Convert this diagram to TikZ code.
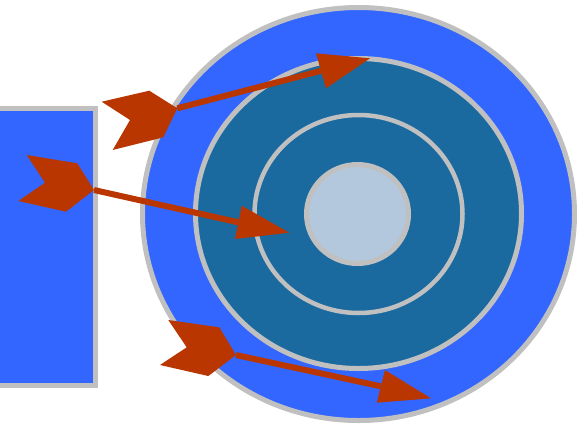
\documentclass[tikz,border=0pt]{standalone}
\definecolor{bblue}{RGB}{51,102,255}
\definecolor{teal}{RGB}{26,106,160}
\definecolor{core}{RGB}{179,199,221}
\definecolor{ringgray}{RGB}{192,192,192}
\definecolor{arrowred}{RGB}{186,54,0}
\begin{document}
\begin{tikzpicture}[x=1pt,y=-1pt,
  ring/.style={draw=ringgray,line width=5pt},
  shaft/.style={draw=arrowred,line width=6pt},
  arrowpart/.style={fill=arrowred}]
\useasboundingbox (0,0) rectangle (585,424);
\clip (0,0) rectangle (585,424);
\fill[white] (0,0) rectangle (585,424);
% left box
\draw[ring,fill=bblue] (-10,108.5) rectangle (95.5,385.5);
% target
\draw[ring,fill=bblue] (358.5,214) ellipse [x radius=216pt, y radius=206.5pt];
\draw[ring,fill=teal] (358.5,213.5) ellipse [x radius=163pt, y radius=155pt];
\draw[ring,line width=4.5pt] (358.5,214) ellipse [x radius=104pt, y radius=99pt];
\draw[ring,fill=core] (357.5,214) ellipse [x radius=51pt, y radius=49.5pt];
% arrow 1
\coordinate (f1) at (177.3,108.3);
\coordinate (h1) at (321,70.8);
\draw[shaft] (f1) -- (h1);
\fill[arrowpart] (101.7,101.7) -- (149.3,90.7) -- (f1) -- (163.3,137.3) -- (112.7,150) -- (130,120) -- cycle;
\fill[arrowpart] (316,53.3) -- (370,58.3) -- (326,88.3) -- cycle;
% arrow 2
\coordinate (f2) at (94,190);
\coordinate (h2) at (238.3,222.3);
\draw[shaft] (f2) -- (h2);
\fill[arrowpart] (26.7,155) -- (77.3,163.3) -- (f2) -- (66,211.7) -- (18.3,201) -- (45,182.7) -- cycle;
\fill[arrowpart] (241.7,205.7) -- (289.3,232.7) -- (235,239) -- cycle;
% arrow 3
\coordinate (f3) at (236,355);
\coordinate (h3) at (380.8,386.3);
\draw[shaft] (f3) -- (h3);
\fill[arrowpart] (168.3,320) -- (219.3,327.3) -- (f3) -- (208.3,376) -- (160,365) -- (186.7,347.3) -- cycle;
\fill[arrowpart] (385,370) -- (431,398.3) -- (376.7,402.7) -- cycle;
\end{tikzpicture}
\end{document}
